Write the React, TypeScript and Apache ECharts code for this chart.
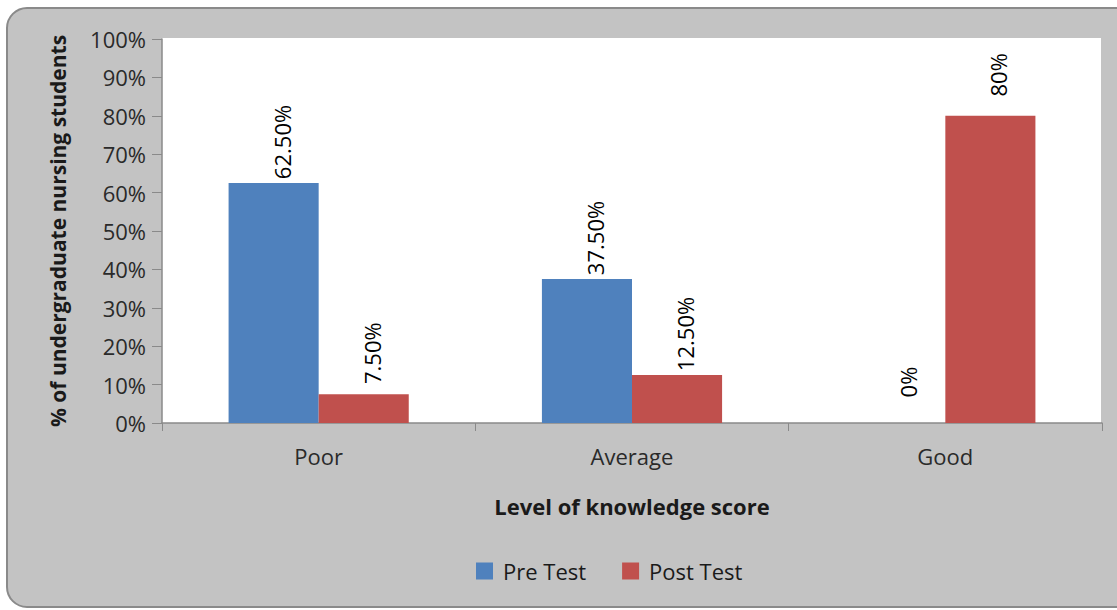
import React, { useEffect, useRef } from "react";
import * as echarts from "echarts";

const categories = ["Poor", "Average", "Good"];
const preTest = [62.5, 37.5, 0];
const postTest = [7.5, 12.5, 80];
const preLabels = ["62.50%", "37.50%", "0%"];
const postLabels = ["7.50%", "12.50%", "80%"];
const yTicks = [0, 10, 20, 30, 40, 50, 60, 70, 80, 90, 100];

const FONT = "'Open Sans', 'Noto Sans', sans-serif";

export default function App() {
  const ref = useRef<HTMLDivElement>(null);
  useEffect(() => {
    if (!ref.current) return;
    const chart = echarts.init(ref.current, undefined, { renderer: "svg" });
    const labelCfg = (labels: string[]) => ({
      show: true,
      position: "top",
      rotate: 90,
      align: "center",
      verticalAlign: "middle",
      distance: 41,
      offset: [0, 8],
      fontFamily: FONT,
      fontSize: 22,
      color: "#000",
      formatter: (p: any) => labels[p.dataIndex],
    });
    chart.setOption({
      animation: false,
      backgroundColor: "#ffffff",
      graphic: [
        {
          type: "rect",
          z: -10,
          silent: true,
          shape: { x: 7, y: 8, width: 1130, height: 599, r: 20 },
          style: { fill: "#c3c3c3", stroke: "#8a8a8a", lineWidth: 2 },
        },
        {
          type: "rect",
          z: -5,
          silent: true,
          shape: { x: 162, y: 38, width: 939, height: 385 },
          style: { fill: "#ffffff" },
        },
      ],
      grid: { left: 162, right: 15, top: 39, bottom: 187, containLabel: false },
      legend: {
        data: ["Pre Test", "Post Test"],
        left: 471,
        top: 555,
        itemWidth: 17,
        itemHeight: 17,
        itemGap: 36,
        icon: "rect",
        textStyle: { fontFamily: FONT, fontSize: 22, color: "#1a1a1a", padding: [0, 0, 0, 5] },
      },
      xAxis: {
        type: "category",
        data: categories,
        name: "Level of knowledge score",
        nameLocation: "middle",
        nameGap: 72,
        nameTextStyle: { fontFamily: FONT, fontSize: 22, fontWeight: "bold", color: "#1a1a1a" },
        axisLine: { lineStyle: { color: "#8a8a8a", width: 1.5 } },
        axisTick: { show: true, length: 8, lineStyle: { color: "#8a8a8a" } },
        axisLabel: { fontFamily: FONT, fontSize: 22, color: "#2a2a2a", margin: 22 },
      },
      yAxis: {
        type: "value",
        min: 0,
        max: 100,
        interval: 10,
        name: "% of undergraduate nursing students",
        nameLocation: "middle",
        nameGap: 94,
        nameTextStyle: { fontFamily: FONT, fontSize: 21, fontWeight: "bold", color: "#1a1a1a" },
        axisLine: { show: true, lineStyle: { color: "#8a8a8a", width: 1.5 } },
        axisTick: { show: true, length: 10, lineStyle: { color: "#8a8a8a" } },
        splitLine: { show: false },
        axisLabel: {
          fontFamily: FONT,
          fontSize: 22,
          color: "#2a2a2a",
          margin: 16,
          formatter: (v: number) => (yTicks.includes(v) ? v + "%" : ""),
        },
      },
      series: [
        {
          name: "Pre Test",
          type: "bar",
          data: preTest,
          barGap: "0%",
          barCategoryGap: "42.5%",
          itemStyle: { color: "#4f81bd" },
          label: labelCfg(preLabels),
        },
        {
          name: "Post Test",
          type: "bar",
          data: postTest,
          itemStyle: { color: "#c0504d" },
          label: labelCfg(postLabels),
        },
      ],
    });
    return () => chart.dispose();
  }, []);
  return (
    <div
      ref={ref}
      style={{ position: "fixed", left: 0, top: 0, width: 1117, height: 610 }}
    />
  );
}
